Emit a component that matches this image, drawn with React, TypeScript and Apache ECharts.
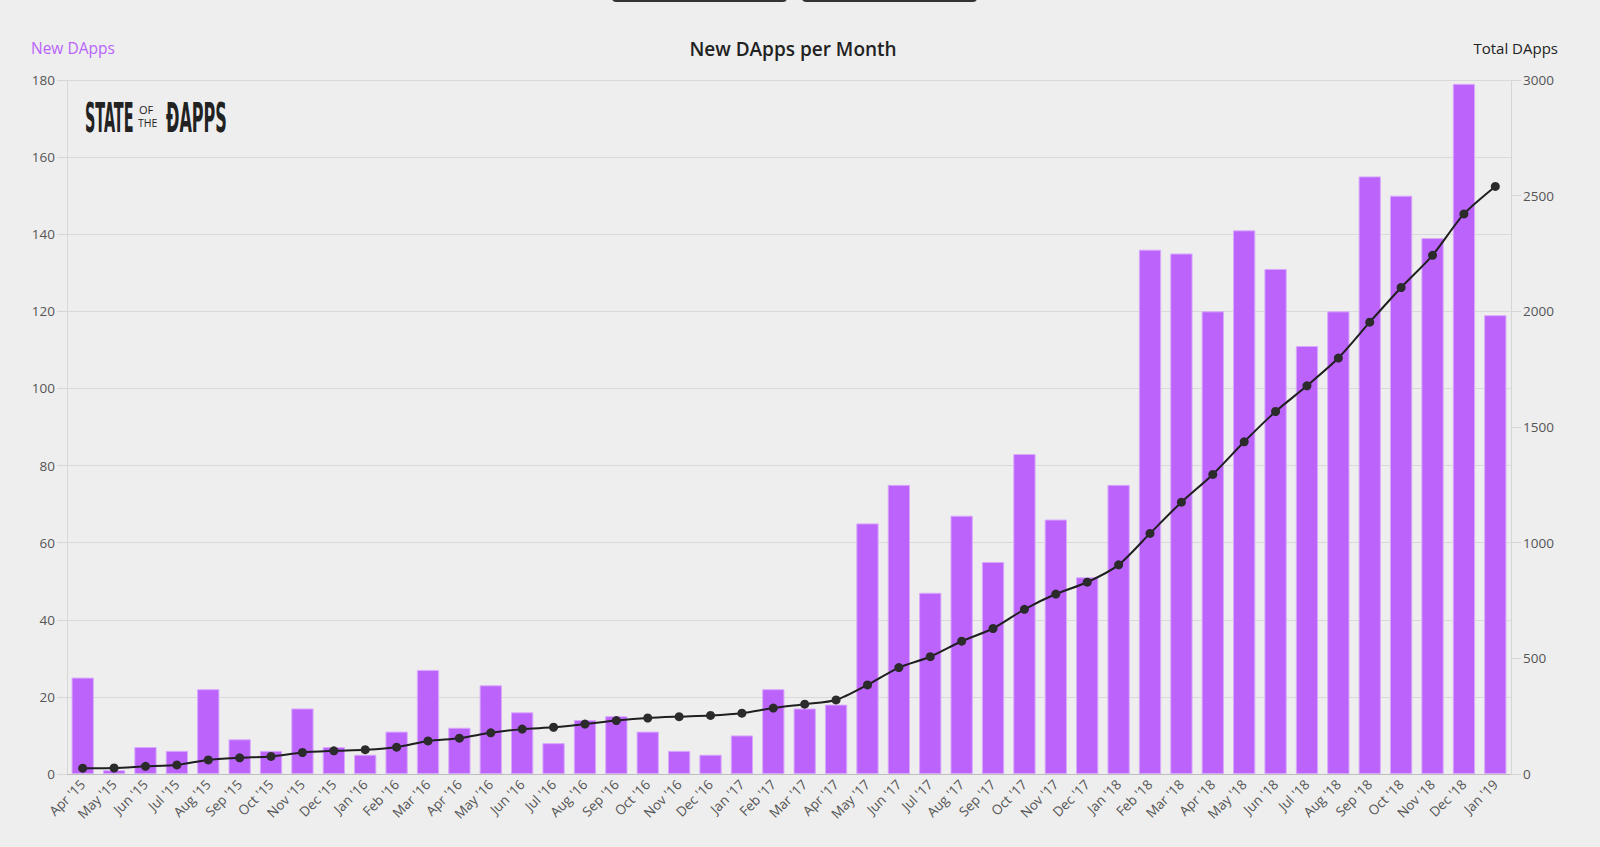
import React, { useEffect, useRef } from "react";
import * as echarts from "echarts";

const months = [
  "Apr '15", "May '15", "Jun '15", "Jul '15", "Aug '15", "Sep '15", "Oct '15", "Nov '15", "Dec '15",
  "Jan '16", "Feb '16", "Mar '16", "Apr '16", "May '16", "Jun '16", "Jul '16", "Aug '16", "Sep '16", "Oct '16", "Nov '16", "Dec '16",
  "Jan '17", "Feb '17", "Mar '17", "Apr '17", "May '17", "Jun '17", "Jul '17", "Aug '17", "Sep '17", "Oct '17", "Nov '17", "Dec '17",
  "Jan '18", "Feb '18", "Mar '18", "Apr '18", "May '18", "Jun '18", "Jul '18", "Aug '18", "Sep '18", "Oct '18", "Nov '18", "Dec '18",
  "Jan '19",
];

const newDapps = [
  25, 1, 7, 6, 22, 9, 6, 17, 7,
  5, 11, 27, 12, 23, 16, 8, 14, 15, 11, 6, 5,
  10, 22, 17, 18, 65, 75, 47, 67, 55, 83, 66, 51,
  75, 136, 135, 120, 141, 131, 111, 120, 155, 150, 139, 179,
  119,
];

const totalDapps = [
  25, 26, 33, 39, 61, 70, 76, 93, 100,
  105, 116, 143, 155, 178, 194, 202, 216, 231, 242, 248, 253,
  263, 285, 302, 320, 385, 460, 507, 574, 629, 712, 778, 829,
  904, 1040, 1175, 1295, 1436, 1567, 1678, 1798, 1953, 2103, 2242, 2421,
  2540,
];

const FONT = "'Open Sans', 'Noto Sans', sans-serif";
const LOGO_FONT = "bold 40px 'Liberation Sans Narrow', 'DejaVu Sans Condensed', sans-serif";

export default function App() {
  const ref = useRef<HTMLDivElement>(null);

  useEffect(() => {
    document.body.style.margin = "0";
    document.body.style.background = "#eeeeee";
    const chart = echarts.init(ref.current!, null, { renderer: "svg" });
    chart.setOption({
      animation: false,
      backgroundColor: "#eeeeee",
      textStyle: { fontFamily: FONT },
      grid: { left: 67, right: 89, top: 80, bottom: 73, containLabel: false },
      xAxis: {
        type: "category",
        data: months,
        axisLine: { show: true, lineStyle: { color: "#bdbdbd", width: 1 } },
        axisTick: { show: false },
        axisLabel: {
          rotate: 45,
          interval: 0,
          margin: 8,
          color: "#555",
          fontSize: 13.5,
          fontFamily: FONT,
        },
      },
      yAxis: [
        {
          type: "value",
          min: 0,
          max: 180,
          interval: 20,
          axisLine: { show: true, lineStyle: { color: "#d6d6d6" } },
          axisTick: { show: true, length: 10, lineStyle: { color: "#d6d6d6" } },
          splitLine: { show: true, lineStyle: { color: "#d9d9d9", width: 1 } },
          axisLabel: { color: "#555", fontSize: 13.5, margin: 12, fontFamily: FONT },
        },
        {
          type: "value",
          min: 0,
          max: 3000,
          interval: 500,
          position: "right",
          axisLine: { show: true, lineStyle: { color: "#d6d6d6" } },
          axisTick: { show: true, length: 10, lineStyle: { color: "#d6d6d6" } },
          splitLine: { show: false },
          axisLabel: {
            color: "#555",
            fontSize: 13.5,
            margin: 12,
            fontFamily: FONT,
            formatter: (v: number) => String(v),
          },
        },
      ],
      series: [
        {
          name: "New DApps",
          type: "bar",
          yAxisIndex: 0,
          data: newDapps,
          barWidth: "71%",
          itemStyle: { color: "#bb63fb", borderColor: "#d9a9fc", borderWidth: 1 },
        },
        {
          name: "Total DApps",
          type: "line",
          yAxisIndex: 1,
          data: totalDapps,
          smooth: 0.25,
          symbol: "circle",
          symbolSize: 9,
          lineStyle: { color: "#1f1f1f", width: 2 },
          itemStyle: { color: "#2b2b2b" },
          z: 3,
        },
      ],
      graphic: [
        { type: "rect", shape: { x: 612, y: -30, width: 175, height: 32, r: 4 }, style: { fill: "#333" } },
        { type: "rect", shape: { x: 802, y: -30, width: 175, height: 32, r: 4 }, style: { fill: "#333" } },
        {
          type: "text",
          x: 793,
          y: 49,
          style: {
            text: "New DApps per Month",
            fill: "#222",
            font: `600 19px ${FONT}`,
            align: "center",
            verticalAlign: "middle",
          },
        },
        {
          type: "text",
          x: 31,
          y: 48,
          style: {
            text: "New DApps",
            fill: "#b964fc",
            font: `15.5px ${FONT}`,
            align: "left",
            verticalAlign: "middle",
          },
        },
        {
          type: "text",
          x: 1558,
          y: 48,
          style: {
            text: "Total DApps",
            fill: "#222",
            font: `15px ${FONT}`,
            align: "right",
            verticalAlign: "middle",
          },
        },
        {
          type: "text",
          x: 85,
          y: 98,
          scaleX: 0.4,
          style: { text: "STATE", fill: "#222", font: LOGO_FONT, align: "left", verticalAlign: "top" },
        },
        {
          type: "text",
          x: 139,
          y: 109.5,
          style: { text: "OF", fill: "#222", font: `11px ${FONT}`, align: "left", verticalAlign: "middle" },
        },
        {
          type: "text",
          x: 138,
          y: 122.5,
          style: { text: "THE", fill: "#222", font: `10.5px ${FONT}`, align: "left", verticalAlign: "middle" },
        },
        {
          type: "text",
          x: 166,
          y: 98,
          scaleX: 0.445,
          style: { text: "ĐAPPS", fill: "#222", font: LOGO_FONT, align: "left", verticalAlign: "top" },
        },
      ],
    });
    return () => chart.dispose();
  }, []);

  return (
    <div
      ref={ref}
      style={{ position: "fixed", left: 0, top: 0, width: 1600, height: 847, background: "#eeeeee" }}
    />
  );
}
